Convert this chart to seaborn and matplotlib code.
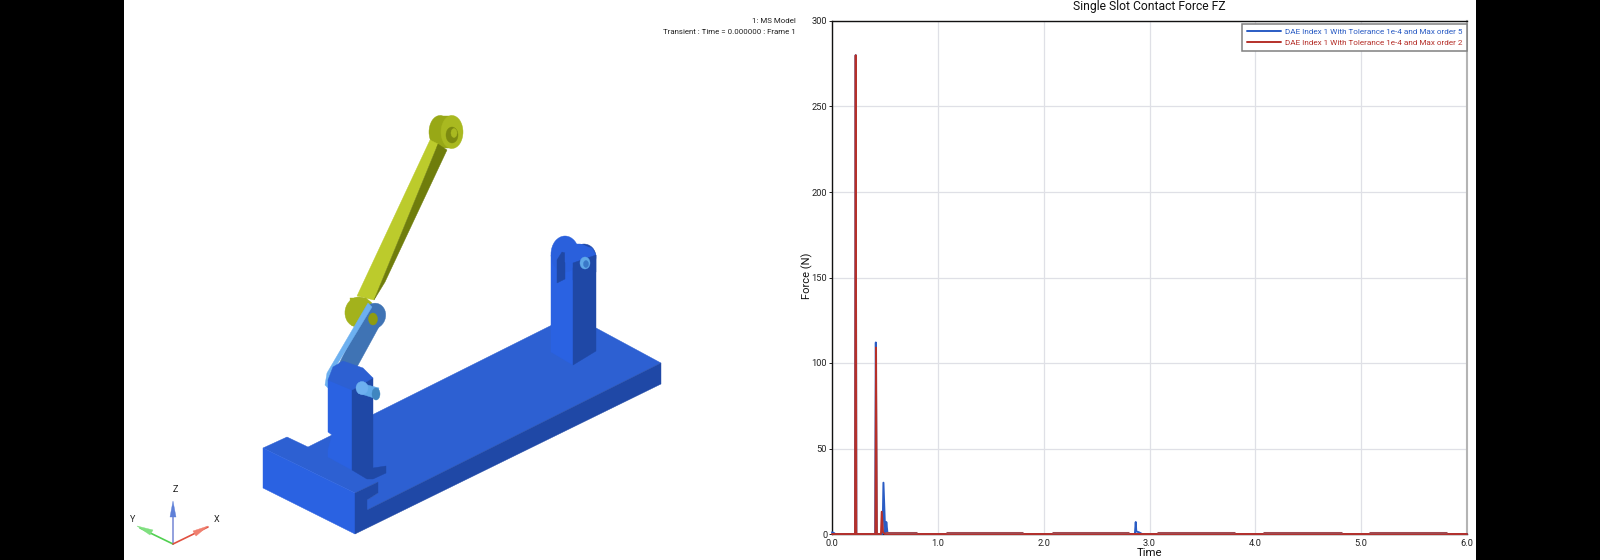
# -*- coding: utf-8 -*-
"""
single slot contact force FZ + mechanism model view
    - left : model picture, polygons in figure pixels
    - right : force vs time
"""

import pandas as pd
import matplotlib
matplotlib.use('Agg')
import matplotlib.pyplot as plt
from matplotlib.patches import Polygon, Rectangle, Ellipse
import seaborn as sn

# chart values
time_order5 = [0.0, 0.02, 0.03, 0.218, 0.224, 0.23, 0.408, 0.414, 0.422, 0.478, 0.486, 0.503, 0.507, 0.513, 0.525, 0.54, 2.862, 2.87, 2.875, 2.90, 2.93, 6.0]
force_order5 = [1, 0.5, 0, 0, 280, 0, 0, 112, 0, 0, 30, 0, 0, 7, 0, 0, 0, 7, 1.5, 1, 0, 0]
time_order2 = [0.0, 0.218, 0.224, 0.23, 0.41, 0.416, 0.424, 0.463, 0.47, 0.482, 0.50, 6.0]
force_order2 = [0, 0, 280, 0, 0, 109, 0, 0, 13, 1, 0, 0]
# thick looking parts of base line (chatter)
chatter_start = [0.5, 1.075, 2.08, 3.07, 4.07, 5.07]
chatter_end = [0.8, 1.8, 2.81, 3.81, 4.82, 5.81]
chatter_level = 0.6

x_ticks = [0, 1, 2, 3, 4, 5, 6]
x_labels = ['0.0', '1.0', '2.0', '3.0', '4.0', '5.0', '6.0']
y_ticks = [0, 50, 100, 150, 200, 250, 300]
legend_order5 = 'DAE Index 1 With Tolerance 1e-4 and Max order 5'
legend_order2 = 'DAE Index 1 With Tolerance 1e-4 and Max order 2'

BLUE = '#2a5cc4'
RED = '#b5302a'

sn.set_theme(style='white')
plt.rcParams['font.family'] = ['Roboto', 'DejaVu Sans']

W, H = 1600, 560
fig = plt.figure(figsize=(W / 100, H / 100), dpi=100, facecolor='white')

# canvas layer in image pixels
bg = fig.add_axes([0, 0, 1, 1])
bg.set_xlim(0, W)
bg.set_ylim(H, 0)
bg.axis('off')
bg.add_patch(Rectangle((0, 0), 124, H, fc='black', ec='none'))
bg.add_patch(Rectangle((1476, 0), 124, H, fc='black', ec='none'))


def poly(pts, color, z=2):
    bg.add_patch(Polygon(pts, closed=True, fc=color, ec=color, lw=0.3, zorder=z))


def ell(x, y, w, h, ang, color, z=2):
    bg.add_patch(Ellipse((x, y), w, h, angle=ang, fc=color, ec=color, lw=0.3, zorder=z))


# base plate
plate_top = '#2d60d2'
plate_left = '#2a62e2'
plate_dark = '#1f48a6'
poly([(263, 448), (287, 437), (308, 447), (572, 315), (661, 363), (367, 510), (367, 500), (378, 493), (378, 482), (355, 493)], plate_top, 2)
poly([(263, 448), (355, 493), (355, 534), (263, 488)], plate_left, 3)
poly([(355, 493), (378, 482), (378, 493), (367, 500), (367, 510), (661, 363), (661, 384), (355, 534)], plate_dark, 3)

# rear clevis
poly([(551, 255), (551, 352), (573, 365), (573, 263)], '#2a62e2', 4)
poly([(573, 263), (573, 365), (596, 351), (596, 255)], plate_dark, 5)
ell(565, 254, 28, 36, 0, '#2a60dc', 4)
poly([(557, 283), (557, 260), (562, 252), (565, 253), (565, 279)], plate_dark, 5)
poly([(565, 262), (565, 253), (577, 244), (592, 248), (596, 255), (573, 268)], '#2a60dc', 6)
ell(584, 257, 24, 26, 0, plate_dark, 5)
ell(579, 256, 24, 24, 0, '#2a60dc', 6)
poly([(573, 263), (596, 255), (596, 272), (573, 280)], plate_dark, 7)
ell(585, 263, 10, 12, 0, '#5fa8e8', 8)
ell(586, 264, 5, 7, 0, '#3a78c8', 9)

# green link
ell(440, 132, 22, 33, 0, '#98a816', 9)
poly([(440, 116), (452, 116), (452, 148), (440, 148)], '#98a816', 9)
poly([(430, 140), (438, 144), (374, 300), (357, 296)], '#bccb2c', 10)
poly([(438, 144), (447, 150), (385, 282), (374, 300)], '#6f7d0c', 10)
ell(452, 132, 22, 33, 0, '#a9b920', 11)
ell(452, 135, 12, 16, 0, '#7c8a10', 12)
ell(454, 133, 6, 9, 0, '#a9b920', 13)
ell(358, 312, 26, 30, 10, '#a3b21c', 11)
poly([(350, 298), (366, 298), (372, 303), (352, 326)], '#a3b21c', 11)

# light blue arm
poly([(368, 305), (385, 313), (380, 325), (357, 367), (337, 368)], '#3f73b4', 13)
ell(374, 316, 23, 26, 20, '#3f73b4', 13)
poly([(368, 303), (327, 373), (325, 385), (328, 388), (332, 373), (372, 307)], '#6db0f0', 14)
ell(373, 319, 9, 12, 0, '#8f9c10', 15)

# front clevis
poly([(328, 380), (328, 432), (332, 435), (328, 450), (328, 457), (352, 470), (352, 385)], '#2a62e2', 16)
poly([(352, 380), (352, 470), (367, 479), (373, 479), (386, 473), (386, 466), (373, 468), (373, 378)], plate_dark, 17)
poly([(328, 380), (333, 367), (343, 361), (363, 368), (373, 378), (352, 390)], '#2d60d2', 17)
poly([(360, 383), (379, 388), (377, 399), (358, 393)], '#5fa8e8', 18)
ell(362, 388, 12, 13, 0, '#6db0f0', 18)
ell(376, 394, 8, 12, 0, '#3f86c0', 19)

# triad
bg.plot([173, 173], [515, 544], color='#8090d8', lw=1.2, zorder=4)
poly([(173, 501), (170, 517), (176, 517)], '#5f80d8', 5)
bg.plot([173, 140], [544, 528], color='#50d050', lw=1.2, zorder=4)
poly([(137, 526), (153, 530), (150, 535)], '#80e080', 5)
bg.plot([173, 208], [544, 527], color='#e05040', lw=1.2, zorder=4)
poly([(208, 526), (193, 531), (196, 536)], '#f08070', 5)
bg.text(175, 489, 'Z', fontsize=6.5, ha='center', va='center', color='#222222')
bg.text(133, 520, 'Y', fontsize=6.5, ha='center', va='center', color='#222222')
bg.text(217, 520, 'X', fontsize=6.5, ha='center', va='center', color='#222222')

# frame caption
bg.text(796, 21, '1: MS Model', fontsize=5.7, ha='right', va='center', color='#222222')
bg.text(796, 32, 'Transient : Time = 0.000000 : Frame 1', fontsize=5.7, ha='right', va='center', color='#222222')

# chart
ax = fig.add_axes([832 / W, 1 - 534 / H, (1467 - 832) / W, (534 - 21) / H])
ax.patch.set_alpha(0)

df5 = pd.DataFrame({'Time': time_order5, 'Force': force_order5})
df2 = pd.DataFrame({'Time': time_order2, 'Force': force_order2})
sn.lineplot(data=df5, x='Time', y='Force', color=BLUE, lw=1.4, ax=ax, estimator=None, sort=False,
            clip_on=False, label=legend_order5, zorder=4)
sn.lineplot(data=df2, x='Time', y='Force', color=RED, lw=1.4, ax=ax, estimator=None, sort=False,
            clip_on=False, label=legend_order2, zorder=5)
for s, e in zip(chatter_start, chatter_end):
    ax.plot([s, e], [chatter_level, chatter_level], color='#a04a50', lw=2.2, solid_capstyle='butt', zorder=6)

ax.set_xlim(0, 6)
ax.set_ylim(0, 300)
ax.set_xticks(x_ticks)
ax.set_xticklabels(x_labels)
ax.set_yticks(y_ticks)
ax.grid(True, color='#dfe0e6', lw=0.9)
ax.set_axisbelow(True)
ax.tick_params(axis='both', labelsize=6.7, length=2.5, width=0.7, color='#222222', pad=1, labelcolor='#222222',
               left=True, bottom=False)
ax.set_xlabel('Time', fontsize=8.2, color='#111111', va='center')
ax.xaxis.set_label_coords(0.5, -0.037)
ax.set_ylabel('Force (N)', fontsize=8.0, color='#111111', va='center')
ax.yaxis.set_label_coords(-0.039, 0.503)
ax.set_title('Single Slot Contact Force FZ', fontsize=8.7, pad=8, color='#111111')
for side in ['top', 'left', 'bottom']:
    ax.spines[side].set_color('#111111')
    ax.spines[side].set_linewidth(1.0)
ax.spines['right'].set_color('#b4b4b4')
ax.spines['right'].set_linewidth(1.5)

leg = ax.legend(loc='upper right', bbox_to_anchor=(0.9995, 0.995), fontsize=5.9, frameon=True, fancybox=False,
                edgecolor='#808080', framealpha=1, borderpad=0.55, labelspacing=0.55, handlelength=4.2,
                handletextpad=0.4, borderaxespad=0)
leg.get_frame().set_linewidth(1.1)
for line, text in zip(leg.get_lines(), leg.get_texts()):
    text.set_color(line.get_color())

fig.savefig('out.png', dpi=100, facecolor='white')
